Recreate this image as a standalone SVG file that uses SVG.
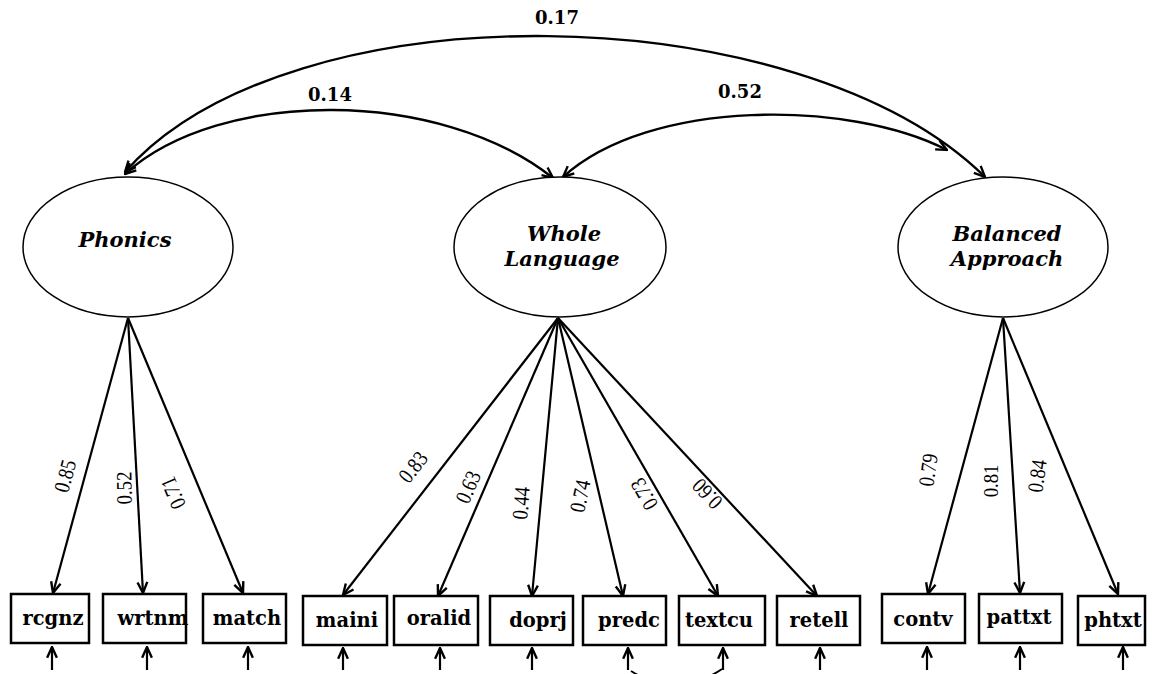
<svg xmlns="http://www.w3.org/2000/svg" width="1156" height="674" viewBox="0 0 1156 674">
<defs>
<marker id="ah" viewBox="0 0 12 12" refX="11" refY="6" markerWidth="13" markerHeight="13" markerUnits="userSpaceOnUse" orient="auto-start-reverse">
<path d="M1,1.5 L11,6 L1,10.5" fill="none" stroke="#000" stroke-width="2.2"/>
</marker>
<style>
.lat{fill:#fff;stroke:#000;stroke-width:1.5}
.latt{font-family:"DejaVu Serif","Liberation Serif",serif;font-weight:bold;font-style:italic;font-size:21px;text-anchor:middle}
.box{fill:#fff;stroke:#000;stroke-width:2.5}
.boxt{font-family:"DejaVu Serif","Liberation Serif",serif;font-weight:bold;font-size:19.5px;text-anchor:middle}
.cov{fill:none;stroke:#000;stroke-width:2.4;marker-start:url(#ah);marker-end:url(#ah)}
.ld{fill:none;stroke:#000;stroke-width:2.2;marker-end:url(#ah)}
.err{fill:none;stroke:#000;stroke-width:2.2;marker-end:url(#ah)}
.cl{font-family:"DejaVu Serif","Liberation Serif",serif;font-weight:bold;font-size:18px;text-anchor:middle}
.lw{font-family:"Liberation Serif",serif;font-size:22px;text-anchor:middle;dominant-baseline:central}
</style>
</defs>
<rect width="1156" height="674" fill="#fff"/>

<g id="connectors">
<path class="cov" d="M125,172 C290,-15 800,-5 985,177"/>
<path class="cov" d="M125,174 C220,88 440,88 553,178"/>
<path class="cov" d="M563,177 C650,98 850,100 947,150"/>
<line class="ld" x1="128" y1="318" x2="53" y2="593"/>
<line class="ld" x1="128" y1="318" x2="143" y2="593"/>
<line class="ld" x1="128" y1="318" x2="243" y2="593"/>
<line class="ld" x1="558" y1="318" x2="343" y2="595"/>
<line class="ld" x1="558" y1="318" x2="438" y2="596"/>
<line class="ld" x1="558" y1="318" x2="532" y2="596"/>
<line class="ld" x1="558" y1="318" x2="623" y2="596"/>
<line class="ld" x1="558" y1="318" x2="718" y2="596"/>
<line class="ld" x1="558" y1="318" x2="817" y2="596"/>
<line class="ld" x1="1003" y1="318" x2="928" y2="594"/>
<line class="ld" x1="1003" y1="318" x2="1020" y2="593"/>
<line class="ld" x1="1003" y1="318" x2="1118" y2="594"/>
<line class="err" x1="52" y1="670" x2="52" y2="647"/>
<line class="err" x1="147" y1="670" x2="147" y2="647"/>
<line class="err" x1="248" y1="670" x2="248" y2="647"/>
<line class="err" x1="343" y1="670" x2="343" y2="648"/>
<line class="err" x1="440" y1="670" x2="440" y2="648"/>
<line class="err" x1="532" y1="670" x2="532" y2="648"/>
<line class="err" x1="628" y1="670" x2="628" y2="648"/>
<line class="err" x1="723" y1="670" x2="723" y2="648"/>
<line class="err" x1="820" y1="670" x2="820" y2="648"/>
<line class="err" x1="927" y1="670" x2="927" y2="647"/>
<line class="err" x1="1020" y1="670" x2="1020" y2="647"/>
<line class="err" x1="1123" y1="670" x2="1123" y2="647"/>
<path d="M631,671 Q676,700 722,669" fill="none" stroke="#000" stroke-width="2"/>
<text class="cl" x="557" y="24">0.17</text>
<text class="cl" x="330" y="101">0.14</text>
<text class="cl" x="740" y="98">0.52</text>
<text class="lw" transform="translate(65,476) rotate(-75) scale(0.85,1)">0.85</text>
<text class="lw" transform="translate(124,488) rotate(-91) scale(0.85,1)">0.52</text>
<text class="lw" transform="translate(173,493) rotate(-113) scale(0.85,1)">0.71</text>
<text class="lw" transform="translate(413,467) rotate(-52) scale(0.85,1)">0.83</text>
<text class="lw" transform="translate(468,487) rotate(-67) scale(0.85,1)">0.63</text>
<text class="lw" transform="translate(521,503) rotate(-85) scale(0.85,1)">0.44</text>
<text class="lw" transform="translate(580,496) rotate(-78) scale(0.85,1)">0.74</text>
<text class="lw" transform="translate(644,494) rotate(-120) scale(0.85,1)">0.73</text>
<text class="lw" transform="translate(707,494) rotate(-133) scale(0.85,1)">0.60</text>
<text class="lw" transform="translate(928,470) rotate(-82) scale(0.85,1)">0.79</text>
<text class="lw" transform="translate(990,481) rotate(-90) scale(0.85,1)">0.81</text>
<text class="lw" transform="translate(1037,476) rotate(-82) scale(0.85,1)">0.84</text>
</g>

<g id="phonics">
<ellipse class="lat" cx="128" cy="247" rx="105" ry="70"/>
<text class="latt" x="125" y="247">Phonics</text>
</g>
<g id="whole-language">
<ellipse class="lat" cx="560" cy="247" rx="106" ry="70"/>
<text class="latt" x="564" y="241">Whole</text>
<text class="latt" x="562" y="266">Language</text>
</g>
<g id="balanced-approach">
<ellipse class="lat" cx="1003" cy="247" rx="105" ry="70"/>
<text class="latt" x="1007" y="241">Balanced</text>
<text class="latt" x="1007" y="266">Approach</text>
</g>

<g id="rcgnz"><rect class="box" x="11" y="594" width="78" height="49"/><text class="boxt" x="53" y="625">rcgnz</text></g>
<g id="wrtnm"><rect class="box" x="103" y="594" width="83" height="49"/><text class="boxt" x="153" y="625">wrtnm</text></g>
<g id="match"><rect class="box" x="203" y="594" width="83" height="49"/><text class="boxt" x="247" y="625">match</text></g>
<g id="maini"><rect class="box" x="303" y="596" width="84" height="49"/><text class="boxt" x="347" y="627">maini</text></g>
<g id="oralid"><rect class="box" x="394" y="596" width="84" height="49"/><text class="boxt" x="439" y="625">oralid</text></g>
<g id="doprj"><rect class="box" x="490" y="596" width="83" height="49"/><text class="boxt" x="538" y="627">doprj</text></g>
<g id="predc"><rect class="box" x="583" y="596" width="83" height="49"/><text class="boxt" x="629" y="627">predc</text></g>
<g id="textcu"><rect class="box" x="679" y="596" width="86" height="49"/><text class="boxt" x="719" y="627">textcu</text></g>
<g id="retell"><rect class="box" x="777" y="596" width="83" height="49"/><text class="boxt" x="819" y="627">retell</text></g>
<g id="contv"><rect class="box" x="882" y="594" width="83" height="49"/><text class="boxt" x="923" y="626">contv</text></g>
<g id="pattxt"><rect class="box" x="979" y="594" width="83" height="49"/><text class="boxt" x="1019" y="624">pattxt</text></g>
<g id="phtxt"><rect class="box" x="1078" y="596" width="67" height="49"/><text class="boxt" x="1113" y="627">phtxt</text></g>
</svg>
